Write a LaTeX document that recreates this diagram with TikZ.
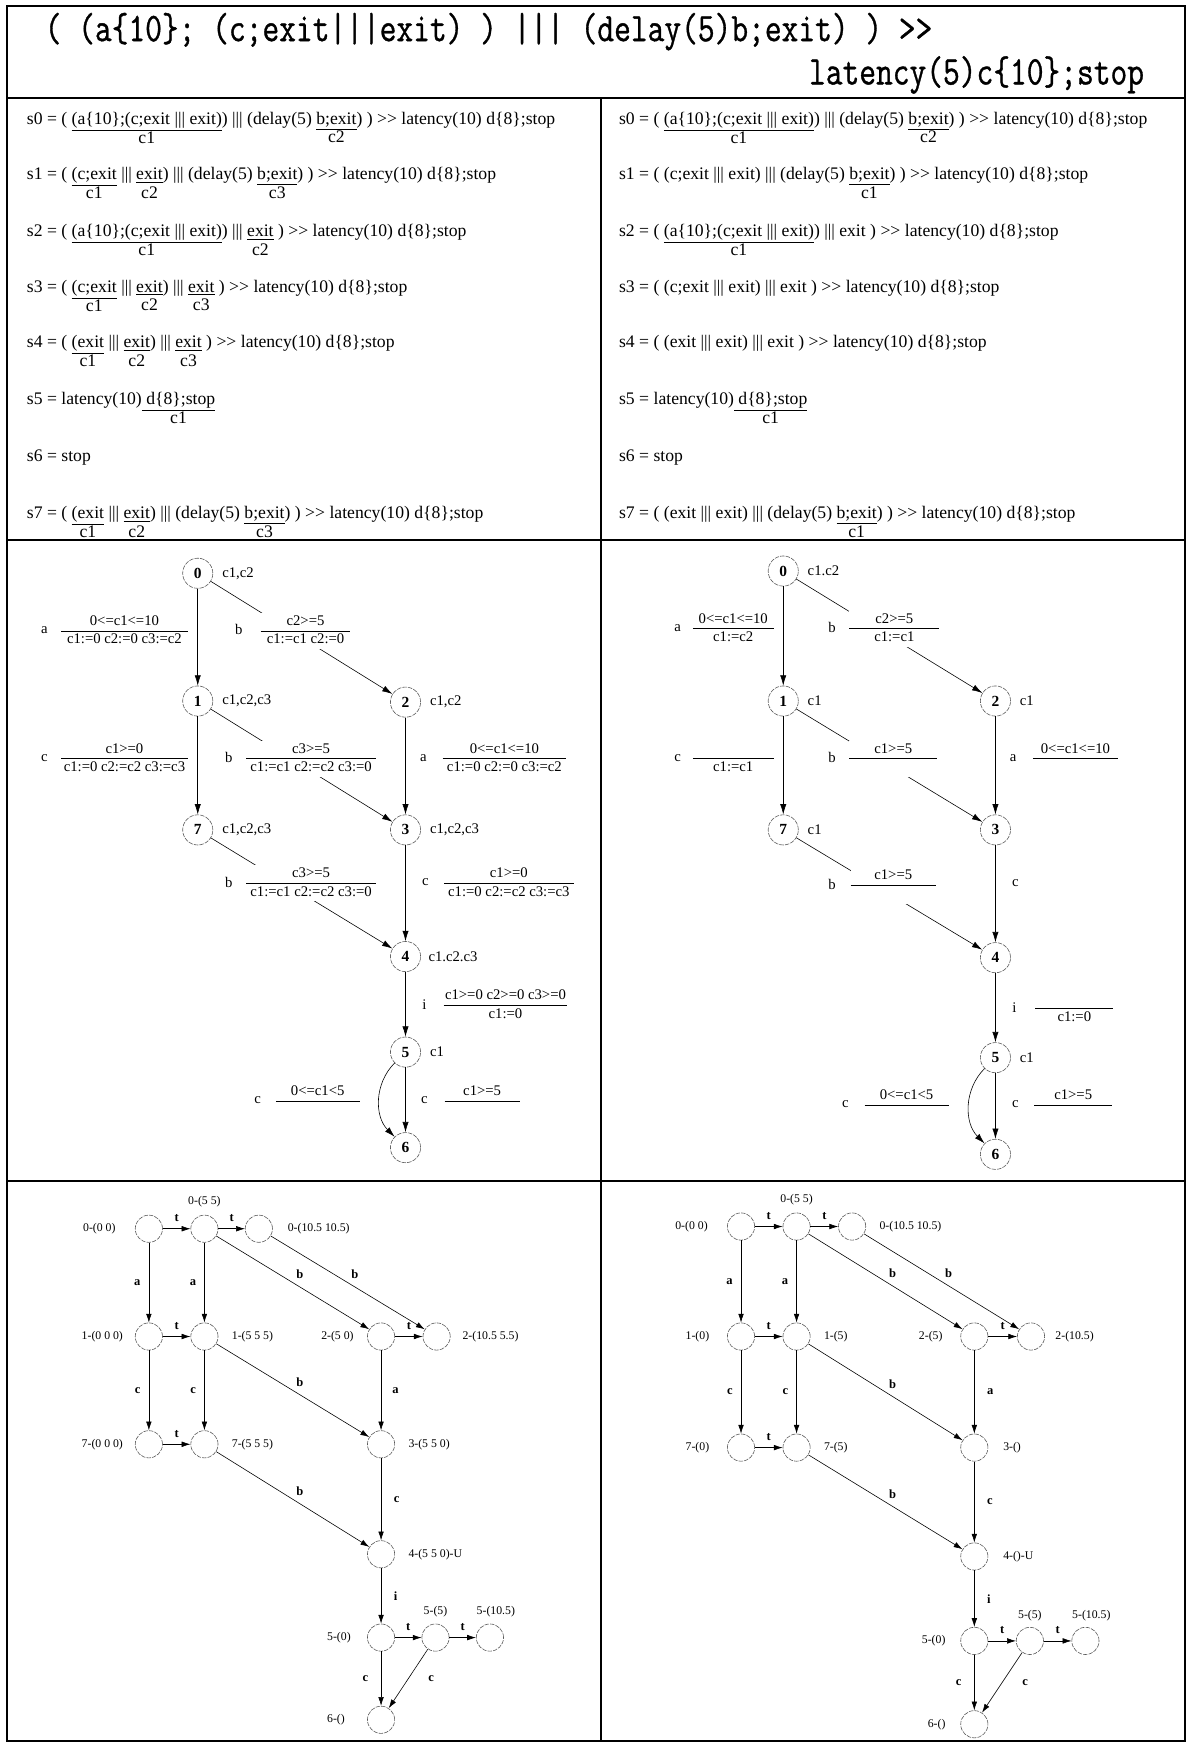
\documentclass[tikz,border=0pt]{standalone}
\usepackage{fontspec}
\setmainfont{Liberation Serif}
\newfontfamily\headfont[FakeBold=1]{Latin Modern Mono}
\usepackage{graphicx}
\usepackage{tikz}
\usetikzlibrary{arrows.meta,positioning}
\setlength{\arrayrulewidth}{0.6pt}
% clock put under a part of a term
\newcommand{\clk}[2]{\begin{tabular}[t]{@{}c@{}}\underline{#1}\\[-1.5pt]#2\end{tabular}}
% guard over reset, rule of given width
\newcommand{\frc}[3]{\begin{tabular}{@{}c@{}}\makebox[#1]{#2}\\\hline\makebox[#1]{#3}\end{tabular}}
\tikzset{
  frame line/.style={line width=1.3pt},
  head/.style={inner sep=0pt,font=\headfont\fontsize{22.1}{24}\selectfont},
  stmt/.style={anchor=base west,inner sep=0pt,font=\fontsize{12}{14}\selectfont},
  zone state/.style={circle,draw=black!65,thin,dash pattern=on 3pt off .8pt,minimum size=20.5pt,inner sep=0pt,font=\fontsize{10.5}{12}\selectfont\bfseries},
  zone tag/.style={inner sep=1pt,font=\fontsize{10}{12}\selectfont},
  zone act/.style={inner sep=0pt,font=\fontsize{10}{12}\selectfont},
  zone guard/.style={fill=white,inner sep=0pt,font=\fontsize{10}{12}\selectfont},
  zone edge/.style={thin,-{Latex[length=7pt,width=4.2pt]}},
  time state/.style={circle,draw=black!65,thin,dash pattern=on 3pt off .8pt,minimum size=18.5pt,inner sep=0pt},
  time tag/.style={inner sep=1pt,font=\fontsize{8}{10}\selectfont},
  time act/.style={inner sep=1.5pt,font=\fontsize{8.5}{10}\selectfont\bfseries},
  time edge/.style={thin,-{Latex[length=6pt,width=3.8pt]}}
}

\begin{document}
\begin{tikzpicture}[x=0.755pt,y=-0.755pt]
  \useasboundingbox (0,0) rectangle (1069,1568);
  % table
  \draw[frame line] (6,5) rectangle (1067,1567);
  \draw[frame line] (6,88) -- (1067,88);
  \draw[frame line] (6,486) -- (1067,486);
  \draw[frame line] (6,1063) -- (1067,1063);
  \draw[frame line] (541,88) -- (541,1567);

  % specification
  \node[head,anchor=base west] (hd1) at (40,37) {\scalebox{1}[1.25]{( (a\{10\}; (c;exit|||exit) ) ||| (delay(5)b;exit) ) >{}>}};
  \node[head,anchor=base east] (hd2) at (1030,76) {\scalebox{1}[1.25]{latency(5)c\{10\};stop}};

  % states, three clocks
  \node[stmt] (l0) at (24,112) {s0 = ( \clk{(a\{10\};(c;exit ||| exit)}{c1}) ||| (delay(5) \clk{b;exit}{c2}) ) >{}> latency(10) d\{8\};stop};
  \node[stmt] (l1) at (24,162) {s1 = ( \clk{(c;exit}{c1} ||| \clk{exit}{c2}) ||| (delay(5) \clk{b;exit}{c3}) ) >{}> latency(10) d\{8\};stop};
  \node[stmt] (l2) at (24,213) {s2 = ( \clk{(a\{10\};(c;exit ||| exit)}{c1}) ||| \clk{exit}{c2} ) >{}> latency(10) d\{8\};stop};
  \node[stmt] (l3) at (24,263) {s3 = ( \clk{(c;exit}{c1} ||| \clk{exit}{c2}) ||| \clk{exit}{c3} ) >{}> latency(10) d\{8\};stop};
  \node[stmt] (l4) at (24,313) {s4 = ( \clk{(exit}{c1} ||| \clk{exit}{c2}) ||| \clk{exit}{c3} ) >{}> latency(10) d\{8\};stop};
  \node[stmt] (l5) at (24,364) {s5 = latency(10)\clk{ d\{8\};stop}{c1}};
  \node[stmt] (l6) at (24,415) {s6 = stop};
  \node[stmt] (l7) at (24,467) {s7 = ( \clk{(exit}{c1} ||| \clk{exit}{c2}) ||| (delay(5) \clk{b;exit}{c3}) ) >{}> latency(10) d\{8\};stop};

  % states, reduced clocks
  \node[stmt] (r0) at (557,112) {s0 = ( \clk{(a\{10\};(c;exit ||| exit)}{c1}) ||| (delay(5) \clk{b;exit}{c2}) ) >{}> latency(10) d\{8\};stop};
  \node[stmt] (r1) at (557,162) {s1 = ( (c;exit ||| exit) ||| (delay(5) \clk{b;exit}{c1}) ) >{}> latency(10) d\{8\};stop};
  \node[stmt] (r2) at (557,213) {s2 = ( \clk{(a\{10\};(c;exit ||| exit)}{c1}) ||| exit ) >{}> latency(10) d\{8\};stop};
  \node[stmt] (r3) at (557,263) {s3 = ( (c;exit ||| exit) ||| exit ) >{}> latency(10) d\{8\};stop};
  \node[stmt] (r4) at (557,313) {s4 = ( (exit ||| exit) ||| exit ) >{}> latency(10) d\{8\};stop};
  \node[stmt] (r5) at (557,364) {s5 = latency(10)\clk{ d\{8\};stop}{c1}};
  \node[stmt] (r6) at (557,415) {s6 = stop};
  \node[stmt] (r7) at (557,467) {s7 = ( (exit ||| exit) ||| (delay(5) \clk{b;exit}{c1}) ) >{}> latency(10) d\{8\};stop};

  % zone graph, three clocks
  \node[zone state] (g0) at (178,516) {0};
  \node[zone state] (g1) at (178,631) {1};
  \node[zone state] (g2) at (365,632) {2};
  \node[zone state] (g7) at (178,747) {7};
  \node[zone state] (g3) at (365,747) {3};
  \node[zone state] (g4) at (365,861) {4};
  \node[zone state] (g5) at (365,947) {5};
  \node[zone state] (g6) at (365,1033) {6};
  \node[zone tag,right=5pt of g0] (g0c) {c1,c2};
  \node[zone tag,right=5pt of g1] (g1c) {c1,c2,c3};
  \node[zone tag,right=5pt of g2] (g2c) {c1,c2};
  \node[zone tag,right=5pt of g7] (g7c) {c1,c2,c3};
  \node[zone tag,right=5pt of g3] (g3c) {c1,c2,c3};
  \node[zone tag,right=4pt of g4] (g4c) {c1.c2.c3};
  \node[zone tag,right=5pt of g5] (g5c) {c1};
  \draw[zone edge] (g0) -- (g1);
  \draw[zone edge] (g0) -- (g2);
  \draw[zone edge] (g1) -- (g7);
  \draw[zone edge] (g1) -- (g3);
  \draw[zone edge] (g2) -- (g3);
  \draw[zone edge] (g7) -- (g4);
  \draw[zone edge] (g3) -- (g4);
  \draw[zone edge] (g4) -- (g5);
  \draw[zone edge] (g5) -- (g6);
  \draw[zone edge] (g5) to[out=225,in=135] (g6);
  \node[zone act] (g01a) at (40,567) {a};
  \node[zone guard] (g01g) at (112,568) {\frc{86pt}{0<=c1<=10}{c1:=0 c2:=0 c3:=c2}};
  \node[zone act] (g02a) at (215,567) {b};
  \node[zone guard] (g02g) at (275,568) {\frc{61pt}{c2>=5}{c1:=c1 c2:=0}};
  \node[zone act] (g17a) at (40,682) {c};
  \node[zone guard] (g17g) at (112,683) {\frc{86pt}{c1>=0}{c1:=0 c2:=c2 c3:=c3}};
  \node[zone act] (g13a) at (206,682) {b};
  \node[zone guard] (g13g) at (280,683) {\frc{88pt}{c3>=5}{c1:=c1 c2:=c2 c3:=0}};
  \node[zone act] (g23a) at (381,682) {a};
  \node[zone guard] (g23g) at (454,683) {\frc{84pt}{0<=c1<=10}{c1:=0 c2:=0 c3:=c2}};
  \node[zone act] (g74a) at (206,794) {b};
  \node[zone guard] (g74g) at (280,795) {\frc{88pt}{c3>=5}{c1:=c1 c2:=c2 c3:=0}};
  \node[zone act] (g34a) at (383,794) {c};
  \node[zone guard] (g34g) at (458,795) {\frc{88pt}{c1>=0}{c1:=0 c2:=c2 c3:=c3}};
  \node[zone act] (g45a) at (382,904) {i};
  \node[zone guard] (g45g) at (455,905) {\frc{84pt}{c1>=0 c2>=0 c3>=0}{c1:=0}};
  \node[zone act] (g56a) at (232,990) {c};
  \node[zone guard] (g56g) at (286,991) {\frc{57pt}{0<=c1<5}{}};
  \node[zone act] (g56b) at (382,990) {c};
  \node[zone guard] (g56h) at (434,991) {\frc{51pt}{c1>=5}{}};

  % zone graph, reduced clocks
  \node[zone state] (h0) at (705,514) {0};
  \node[zone state] (h1) at (705,631) {1};
  \node[zone state] (h2) at (896,631) {2};
  \node[zone state] (h7) at (705,747) {7};
  \node[zone state] (h3) at (896,747) {3};
  \node[zone state] (h4) at (896,862) {4};
  \node[zone state] (h5) at (896,952) {5};
  \node[zone state] (h6) at (896,1039) {6};
  \node[zone tag,right=5pt of h0] (h0c) {c1.c2};
  \node[zone tag,right=5pt of h1] (h1c) {c1};
  \node[zone tag,right=5pt of h2] (h2c) {c1};
  \node[zone tag,right=5pt of h7] (h7c) {c1};
  \node[zone tag,right=5pt of h5] (h5c) {c1};
  \draw[zone edge] (h0) -- (h1);
  \draw[zone edge] (h0) -- (h2);
  \draw[zone edge] (h1) -- (h7);
  \draw[zone edge] (h1) -- (h3);
  \draw[zone edge] (h2) -- (h3);
  \draw[zone edge] (h7) -- (h4);
  \draw[zone edge] (h3) -- (h4);
  \draw[zone edge] (h4) -- (h5);
  \draw[zone edge] (h5) -- (h6);
  \draw[zone edge] (h5) to[out=225,in=135] (h6);
  \node[zone act] (h01a) at (610,565) {a};
  \node[zone guard] (h01g) at (660,566) {\frc{55pt}{0<=c1<=10}{c1:=c2}};
  \node[zone act] (h02a) at (749,565) {b};
  \node[zone guard] (h02g) at (805,566) {\frc{61pt}{c2>=5}{c1:=c1}};
  \node[zone act] (h17a) at (610,682) {c};
  \node[zone guard] (h17g) at (660,683) {\frc{55pt}{}{c1:=c1}};
  \node[zone act] (h13a) at (749,682) {b};
  \node[zone guard] (h13g) at (804,683) {\frc{60pt}{c1>=5}{}};
  \node[zone act] (h23a) at (912,682) {a};
  \node[zone guard] (h23g) at (968,683) {\frc{58pt}{0<=c1<=10}{}};
  \node[zone act] (h74a) at (749,796) {b};
  \node[zone guard] (h74g) at (804,797) {\frc{58pt}{c1>=5}{}};
  \node[zone act] (h34a) at (914,795) {c};
  \node[zone act] (h45a) at (913,907) {i};
  \node[zone guard] (h45g) at (967,908) {\frc{53pt}{}{c1:=0}};
  \node[zone act] (h56a) at (761,994) {c};
  \node[zone guard] (h56g) at (816,995) {\frc{57pt}{0<=c1<5}{}};
  \node[zone act] (h56b) at (914,994) {c};
  \node[zone guard] (h56h) at (966,995) {\frc{53pt}{c1>=5}{}};

  % timed graph, three clocks
  \node[time state] (t00) at (134,1106) {};
  \node[time state] (t05) at (184,1106) {};
  \node[time state] (t0x) at (233,1106) {};
  \node[time state] (t1a) at (134,1203) {};
  \node[time state] (t1b) at (184,1203) {};
  \node[time state] (t2a) at (343,1203) {};
  \node[time state] (t2b) at (393,1203) {};
  \node[time state] (t7a) at (134,1300) {};
  \node[time state] (t7b) at (184,1300) {};
  \node[time state] (t3) at (343,1300) {};
  \node[time state] (t4) at (343,1399) {};
  \node[time state] (t5a) at (343,1474) {};
  \node[time state] (t5b) at (392,1474) {};
  \node[time state] (t5c) at (441,1474) {};
  \node[time state] (t6) at (343,1548) {};
  \node[time tag,left=12pt of t00] (t00l) {0-(0 0)};
  \node[time tag,above=4pt of t05] (t05l) {0-(5 5)};
  \node[time tag,right=9pt of t0x] (t0xl) {0-(10.5 10.5)};
  \node[time tag,left=7pt of t1a] (t1al) {1-(0 0 0)};
  \node[time tag,right=8pt of t1b] (t1bl) {1-(5 5 5)};
  \node[time tag,left=8pt of t2a] (t2al) {2-(5 0)};
  \node[time tag,right=7pt of t2b] (t2bl) {2-(10.5 5.5)};
  \node[time tag,left=7pt of t7a] (t7al) {7-(0 0 0)};
  \node[time tag,right=8pt of t7b] (t7bl) {7-(5 5 5)};
  \node[time tag,right=8pt of t3] (t3l) {3-(5 5 0)};
  \node[time tag,right=8pt of t4] (t4l) {4-(5 5 0)-U};
  \node[time tag,left=10pt of t5a] (t5al) {5-(0)};
  \node[time tag,above=3pt of t5b] (t5bl) {5-(5)};
  \node[time tag,above=3pt of t5c,xshift=4pt] (t5cl) {5-(10.5)};
  \node[time tag,left=14pt of t6] (t6l) {6-()};
  \draw[time edge] (t00) -- node[time act,above=3pt] (tt1) {t} (t05);
  \draw[time edge] (t05) -- node[time act,above=3pt] (tt2) {t} (t0x);
  \draw[time edge] (t1a) -- node[time act,above=3pt] (tt3) {t} (t1b);
  \draw[time edge] (t2a) -- node[time act,above=3pt] (tt4) {t} (t2b);
  \draw[time edge] (t7a) -- node[time act,above=3pt] (tt5) {t} (t7b);
  \draw[time edge] (t5a) -- node[time act,above=3pt] (tt6) {t} (t5b);
  \draw[time edge] (t5b) -- node[time act,above=3pt] (tt7) {t} (t5c);
  \draw[time edge] (t00) -- node[time act,left=4pt] (ta1) {a} (t1a);
  \draw[time edge] (t05) -- node[time act,left=4pt] (ta2) {a} (t1b);
  \draw[time edge] (t05) -- node[time act,above right=1pt] (tb1) {b} (t2a);
  \draw[time edge] (t0x) -- node[time act,above right=1pt] (tb2) {b} (t2b);
  \draw[time edge] (t1a) -- node[time act,left=4pt] (tc1) {c} (t7a);
  \draw[time edge] (t1b) -- node[time act,left=4pt] (tc2) {c} (t7b);
  \draw[time edge] (t1b) -- node[time act,above right=1pt] (tb3) {b} (t3);
  \draw[time edge] (t2a) -- node[time act,right=6pt] (ta3) {a} (t3);
  \draw[time edge] (t7b) -- node[time act,above right=1pt] (tb4) {b} (t4);
  \draw[time edge] (t3) -- node[time act,right=7pt] (tc3) {c} (t4);
  \draw[time edge] (t4) -- node[time act,right=7pt] (ti1) {i} (t5a);
  \draw[time edge] (t5a) -- node[time act,left=7pt] (tc4) {c} (t6);
  \draw[time edge] (t5b) -- node[time act,right=12pt] (tc5) {c} (t6);

  % timed graph, reduced clocks
  \node[time state] (u00) at (667,1104) {};
  \node[time state] (u05) at (717,1104) {};
  \node[time state] (u0x) at (767,1104) {};
  \node[time state] (u1a) at (667,1203) {};
  \node[time state] (u1b) at (717,1203) {};
  \node[time state] (u2a) at (877,1203) {};
  \node[time state] (u2b) at (928,1203) {};
  \node[time state] (u7a) at (667,1303) {};
  \node[time state] (u7b) at (717,1303) {};
  \node[time state] (u3) at (877,1303) {};
  \node[time state] (u4) at (877,1401) {};
  \node[time state] (u5a) at (877,1477) {};
  \node[time state] (u5b) at (927,1477) {};
  \node[time state] (u5c) at (977,1477) {};
  \node[time state] (u6) at (877,1552) {};
  \node[time tag,left=12pt of u00] (u00l) {0-(0 0)};
  \node[time tag,above=4pt of u05] (u05l) {0-(5 5)};
  \node[time tag,right=8pt of u0x] (u0xl) {0-(10.5 10.5)};
  \node[time tag,left=11pt of u1a] (u1al) {1-(0)};
  \node[time tag,right=8pt of u1b] (u1bl) {1-(5)};
  \node[time tag,left=11pt of u2a] (u2al) {2-(5)};
  \node[time tag,right=6pt of u2b] (u2bl) {2-(10.5)};
  \node[time tag,left=11pt of u7a] (u7al) {7-(0)};
  \node[time tag,right=8pt of u7b] (u7bl) {7-(5)};
  \node[time tag,right=9pt of u3] (u3l) {3-()};
  \node[time tag,right=9pt of u4] (u4l) {4-()-U};
  \node[time tag,left=9pt of u5a] (u5al) {5-(0)};
  \node[time tag,above=3pt of u5b] (u5bl) {5-(5)};
  \node[time tag,above=3pt of u5c,xshift=4pt] (u5cl) {5-(10.5)};
  \node[time tag,left=9pt of u6] (u6l) {6-()};
  \draw[time edge] (u00) -- node[time act,above=3pt] (ut1) {t} (u05);
  \draw[time edge] (u05) -- node[time act,above=3pt] (ut2) {t} (u0x);
  \draw[time edge] (u1a) -- node[time act,above=3pt] (ut3) {t} (u1b);
  \draw[time edge] (u2a) -- node[time act,above=3pt] (ut4) {t} (u2b);
  \draw[time edge] (u7a) -- node[time act,above=3pt] (ut5) {t} (u7b);
  \draw[time edge] (u5a) -- node[time act,above=3pt] (ut6) {t} (u5b);
  \draw[time edge] (u5b) -- node[time act,above=3pt] (ut7) {t} (u5c);
  \draw[time edge] (u00) -- node[time act,left=4pt] (ua1) {a} (u1a);
  \draw[time edge] (u05) -- node[time act,left=4pt] (ua2) {a} (u1b);
  \draw[time edge] (u05) -- node[time act,above right=1pt] (ub1) {b} (u2a);
  \draw[time edge] (u0x) -- node[time act,above right=1pt] (ub2) {b} (u2b);
  \draw[time edge] (u1a) -- node[time act,left=4pt] (uc1) {c} (u7a);
  \draw[time edge] (u1b) -- node[time act,left=4pt] (uc2) {c} (u7b);
  \draw[time edge] (u1b) -- node[time act,above right=1pt] (ub3) {b} (u3);
  \draw[time edge] (u2a) -- node[time act,right=7pt] (ua3) {a} (u3);
  \draw[time edge] (u7b) -- node[time act,above right=1pt] (ub4) {b} (u4);
  \draw[time edge] (u3) -- node[time act,right=7pt] (uc3) {c} (u4);
  \draw[time edge] (u4) -- node[time act,right=7pt] (ui1) {i} (u5a);
  \draw[time edge] (u5a) -- node[time act,left=7pt] (uc4) {c} (u6);
  \draw[time edge] (u5b) -- node[time act,right=12pt] (uc5) {c} (u6);
\end{tikzpicture}
\end{document}
